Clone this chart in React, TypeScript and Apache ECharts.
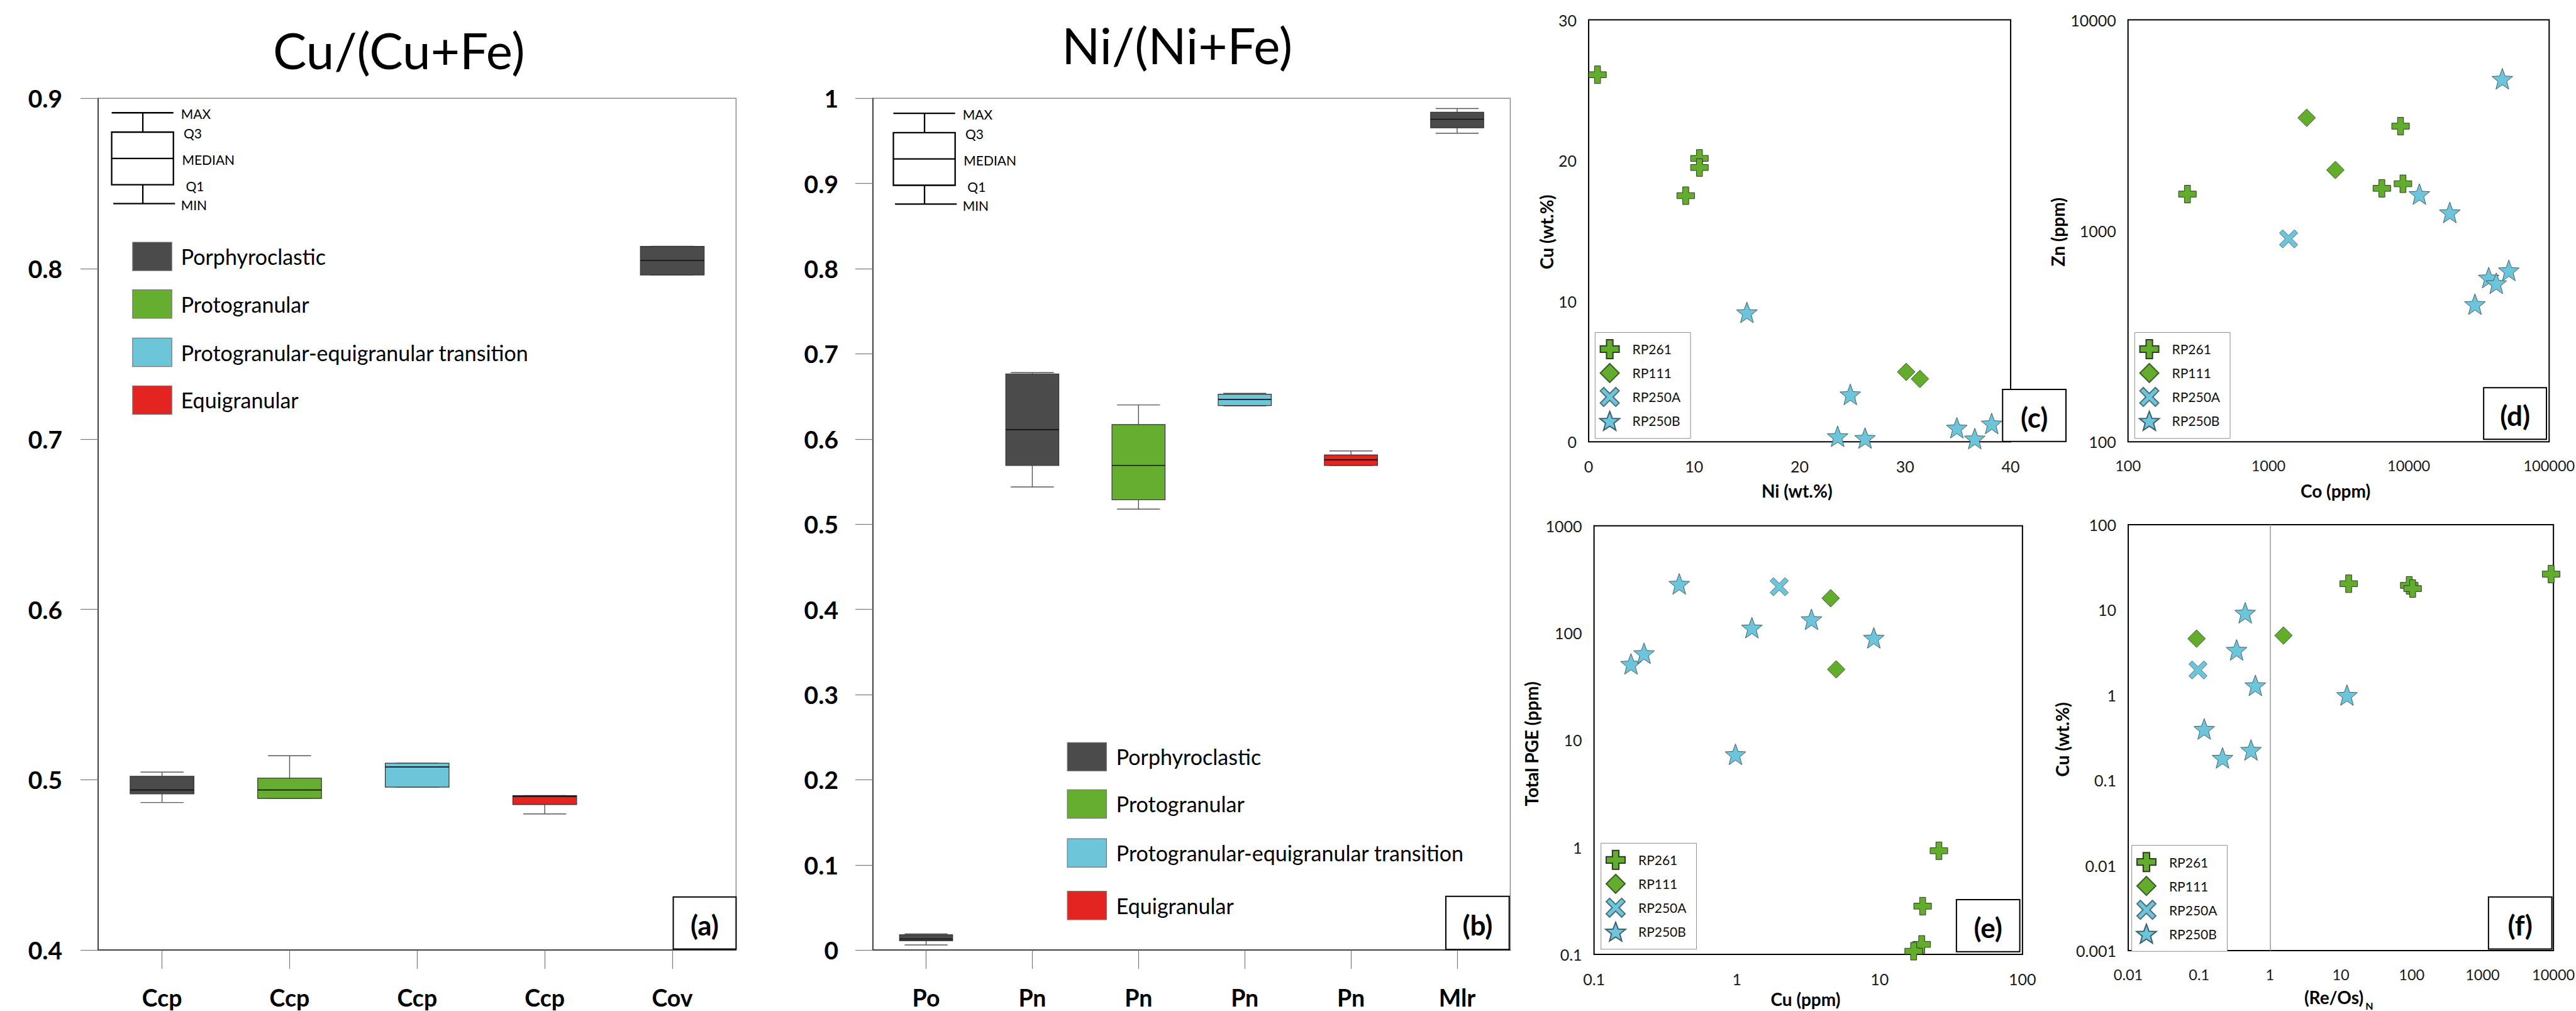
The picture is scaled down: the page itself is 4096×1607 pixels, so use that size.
import React, { useEffect, useRef } from 'react';
import * as echarts from 'echarts';

const W = 4096;
const H = 1607;
const S = W / 4798;
const p = (v: number) => v * S;
const FONT = 'Lato';

// ---------------- box plots: [min, Q1, median, Q3, max] ----------------
const groups = ['Porphyroclastic', 'Protogranular', 'Protogranular-equigranular transition', 'Equigranular'];
const groupColors = ['#4b4b4b', '#65ae2f', '#6dc5d9', '#e42421'];

const titleA = 'Cu/(Cu+Fe)';
const catsA = ['Ccp', 'Ccp', 'Ccp', 'Ccp', 'Cov'];
const boxA = [
  [0.4866, 0.4917, 0.494, 0.502, 0.5045],
  [0.489, 0.489, 0.494, 0.5009, 0.5141],
  [0.4957, 0.4957, 0.5075, 0.5097, 0.5097],
  [0.4799, 0.4854, 0.4902, 0.4907, 0.4907],
  [0.7963, 0.7963, 0.8048, 0.8131, 0.8131],
];
const groupOfA = [0, 1, 2, 3, 0];
const yRangeA = [0.4, 0.9, 0.1];

const titleB = 'Ni/(Ni+Fe)';
const catsB = ['Po', 'Pn', 'Pn', 'Pn', 'Pn', 'Mlr'];
const boxB = [
  [0.006, 0.011, 0.013, 0.018, 0.019],
  [0.5437, 0.569, 0.611, 0.6765, 0.678],
  [0.5177, 0.5286, 0.569, 0.617, 0.64],
  [0.639, 0.6393, 0.6465, 0.6526, 0.6536],
  [0.569, 0.569, 0.5756, 0.5813, 0.586],
  [0.959, 0.9653, 0.9754, 0.9836, 0.988],
];
const groupOfB = [0, 0, 1, 2, 3, 0];
const yRangeB = [0, 1, 0.1];

const insetLabels = ['MAX', 'Q3', 'MEDIAN', 'Q1', 'MIN'];

// ---------------- scatter plots ----------------
const sampleNames = ['RP261', 'RP111', 'RP250A', 'RP250B'];

// (c) Ni (wt.%) vs Cu (wt.%)
const cRP261 = [[0.84, 26.1], [10.5, 20.15], [10.5, 19.5], [9.2, 17.5]];
const cRP111 = [[30.1, 4.97], [31.4, 4.47]];
const cRP250A: number[][] = [];
const cRP250B = [[15.0, 9.2], [24.8, 3.37], [23.6, 0.39], [26.2, 0.27], [34.9, 1.0], [36.6, 0.23], [38.2, 1.3]];

// (d) Co (ppm) vs Zn (ppm)
const dRP261 = [[265, 1493], [8740, 3134], [6430, 1590], [9090, 1671]];
const dRP111 = [[1873, 3435], [3000, 1943]];
const dRP250A = [[1392, 916]];
const dRP250B = [[46400, 5255], [11900, 1493], [19600, 1222], [37100, 600], [51600, 649], [42000, 564], [29600, 449]];

// (e) Cu (ppm) vs Total PGE (ppm)
const eRP261 = [[26.0, 0.927], [20.0, 0.282], [19.7, 0.124], [17.3, 0.107]];
const eRP111 = [[4.54, 211], [4.96, 45.7]];
const eRP250A = [[1.98, 270]];
const eRP250B = [[0.395, 287], [1.275, 112], [3.33, 134], [9.1, 90], [0.1815, 51.4], [0.224, 64.6], [0.978, 7.37]];

// (f) (Re/Os)N vs Cu (wt.%)
const fRP261 = [[12.9, 20.3], [92.3, 19.4], [103, 17.8], [9270, 26.3]];
const fRP111 = [[0.092, 4.6], [1.55, 5.0]];
const fRP250A = [[0.0964, 1.97]];
const fRP250B = [[0.447, 9.25], [0.338, 3.39], [0.622, 1.3], [12.2, 1.0], [0.118, 0.4], [0.214, 0.183], [0.54, 0.227]];
const fRefLineX = 1;

// ---------------- symbols ----------------
const starPath = (() => {
  const pts: string[] = [];
  for (let i = 0; i < 10; i++) {
    const r = i % 2 === 0 ? 50 : 21;
    const a = -Math.PI / 2 + (i * Math.PI) / 5;
    pts.push((50 + r * Math.cos(a)).toFixed(2) + ',' + (50 + r * Math.sin(a)).toFixed(2));
  }
  return 'path://M' + pts.join('L') + 'Z';
})();
const crossPath = 'path://M33,0H67V33H100V67H67V100H33V67H0V33H33Z';
const xPath = 'path://M0,18L18,0L50,32L82,0L100,18L68,50L100,82L82,100L50,68L18,100L0,82L32,50Z';
const diamondPath = 'path://M50,0L100,50L50,100L0,50Z';

const GREEN = '#62ad2c';
const CYAN = '#6cc5da';
const symbolOf: Record<string, any> = {
  RP261: { symbol: crossPath, symbolSize: 28, color: GREEN, border: '#2f3a28' },
  RP111: { symbol: diamondPath, symbolSize: 28, color: GREEN, border: '#3c5a2a' },
  RP250A: { symbol: xPath, symbolSize: 29, color: CYAN, border: '#4f6f78' },
  RP250B: { symbol: starPath, symbolSize: 33, color: CYAN, border: '#3f5f69' },
};

function scatterSeries(name: string, data: number[][], gi: number, extra: any = {}) {
  const s = symbolOf[name];
  return {
    type: 'scatter',
    name,
    xAxisIndex: gi,
    yAxisIndex: gi,
    data,
    symbol: s.symbol,
    symbolSize: s.symbolSize,
    itemStyle: { color: s.color, borderColor: s.border, borderWidth: 1, opacity: 1 },
    emphasis: { disabled: true },
    z: 3,
    ...extra,
  };
}

function boxRender(capW: number) {
  return (params: any, api: any) => {
    const i = api.value(0);
    const mn = api.coord([i, api.value(1)]);
    const q1 = api.coord([i, api.value(2)]);
    const md = api.coord([i, api.value(3)]);
    const q3 = api.coord([i, api.value(4)]);
    const mx = api.coord([i, api.value(5)]);
    const g = api.value(6);
    const band = api.size([1, 0])[0];
    const bw = band * 0.5;
    const cx = mn[0];
    const ws = { stroke: '#555', lineWidth: 1.4 };
    return {
      type: 'group',
      children: [
        { type: 'line', shape: { x1: cx, y1: mx[1], x2: cx, y2: q3[1] }, style: ws },
        { type: 'line', shape: { x1: cx, y1: q1[1], x2: cx, y2: mn[1] }, style: ws },
        { type: 'line', shape: { x1: cx - capW / 2, y1: mx[1], x2: cx + capW / 2, y2: mx[1] }, style: ws },
        { type: 'line', shape: { x1: cx - capW / 2, y1: mn[1], x2: cx + capW / 2, y2: mn[1] }, style: ws },
        {
          type: 'rect',
          shape: { x: cx - bw / 2, y: q3[1], width: bw, height: Math.max(q1[1] - q3[1], 1) },
          style: { fill: groupColors[g], stroke: '#333', lineWidth: 1.2 },
        },
        { type: 'line', shape: { x1: cx - bw / 2, y1: md[1], x2: cx + bw / 2, y2: md[1] }, style: { stroke: '#111', lineWidth: 1.6 } },
      ],
    };
  };
}

function T(text: string, x: number, y: number, o: any = {}) {
  return {
    type: 'text',
    x: p(x),
    y: p(y),
    rotation: o.rot || 0,
    z: 30,
    style: {
      text,
      fontFamily: FONT,
      fontSize: o.fs || 26,
      fontWeight: o.fw || 'normal',
      fill: '#000',
      align: o.align || 'center',
      verticalAlign: 'middle',
    },
  };
}

function L(x1: number, y1: number, x2: number, y2: number, w = 2.3, c = '#000') {
  return { type: 'line', z: 30, shape: { x1: p(x1), y1: p(y1), x2: p(x2), y2: p(y2) }, style: { stroke: c, lineWidth: w } };
}

function inset(dx: number, dy: number) {
  const l = 208 + dx, r = 323 + dx, cx = 266 + dx;
  const ys = [210, 246, 295, 344, 379].map((v) => v + dy);
  const offs = [14, 19, 16, 23, 14];
  const els: any[] = [
    L(l, ys[0], r, ys[0]),
    L(cx, ys[0], cx, ys[1]),
    { type: 'rect', z: 30, shape: { x: p(l), y: p(ys[1]), width: p(r - l), height: p(ys[3] - ys[1]) }, style: { fill: '#fff', stroke: '#000', lineWidth: 2.3 } },
    L(l, ys[2], r, ys[2]),
    L(cx, ys[3], cx, ys[4]),
    L(l + 3, ys[4], r + 3, ys[4]),
  ];
  insetLabels.forEach((t, i) => els.push(T(t, r + offs[i], ys[i] + 2, { fs: 21, align: 'left' })));
  return els;
}

function groupLegend(x0: number, x1: number, centers: number[], tx: number) {
  const els: any[] = [];
  groups.forEach((g, i) => {
    els.push({
      type: 'rect',
      z: 30,
      shape: { x: p(x0), y: p(centers[i] - 26.5), width: p(x1 - x0), height: p(53) },
      style: { fill: groupColors[i], stroke: '#777', lineWidth: 1.2 },
    });
    els.push(T(g, tx, centers[i], { fs: 34, align: 'left' }));
  });
  return els;
}

function panelLabel(label: string, x0: number, y0: number, x1: number, y1: number) {
  return [
    { type: 'rect', z: 40, shape: { x: p(x0), y: p(y0), width: p(x1 - x0), height: p(y1 - y0) }, style: { fill: '#fff', stroke: '#000', lineWidth: 2 } },
    { ...T(label, (x0 + x1) / 2, (y0 + y1) / 2 + 3, { fs: 44, fw: 'bold' }), z: 41 },
  ];
}

const logFmt = (v: number) => String(parseFloat(Number(v).toPrecision(6)));

function scatterAxis(type: string, min: number, max: number, interval: number | null, isX: boolean, fs = 25) {
  const a: any = {
    type,
    min,
    max,
    axisLine: { show: false },
    axisTick: { show: false },
    splitLine: { show: false },
    axisLabel: {
      fontFamily: FONT,
      fontSize: fs,
      color: '#1a1a1a',
      margin: isX ? 26 : 19,
      interval: 0,
      formatter: type === 'log' ? logFmt : undefined,
    },
  };
  if (type === 'log') a.logBase = 10;
  if (interval != null) a.interval = interval;
  return a;
}

function boxXAxis(gi: number, data: string[]) {
  return {
    type: 'category',
    gridIndex: gi,
    data,
    axisLine: { show: true, lineStyle: { color: '#222', width: 1.5 } },
    axisTick: { show: true, alignWithLabel: true, length: p(35), lineStyle: { color: '#777', width: 1.2 } },
    axisLabel: { interval: 0, margin: 56, fontFamily: FONT, fontSize: 37.5, fontWeight: 'bold', color: '#000' },
    splitLine: { show: false },
  };
}

function boxYAxis(gi: number, r: number[], margin: number) {
  return {
    type: 'value',
    gridIndex: gi,
    min: r[0],
    max: r[1],
    interval: r[2],
    axisLine: { show: true, lineStyle: { color: '#222', width: 1.5 } },
    axisTick: { show: true, length: p(33), lineStyle: { color: '#777', width: 1.2 } },
    axisLabel: { margin, fontFamily: FONT, fontSize: 39, fontWeight: 'bold', color: '#000' },
    splitLine: { show: false },
  };
}

function gridRect(l: number, t: number, r: number, b: number, border: string, bw: number) {
  return {
    left: p(l),
    top: p(t),
    width: p(r - l),
    height: p(b - t),
    show: true,
    borderColor: border,
    borderWidth: bw,
    backgroundColor: 'transparent',
    containLabel: false,
    outerBoundsMode: 'none',
  };
}

function legendAt(l: number, t: number) {
  return {
    orient: 'vertical',
    left: p(l),
    top: p(t),
    itemWidth: 62,
    itemHeight: 30,
    itemGap: 6,
    padding: [10.5, 16, 12, 6.5],
    borderColor: '#8c8c8c',
    borderWidth: 1,
    backgroundColor: '#fff',
    selectedMode: false,
    textStyle: { fontFamily: FONT, fontSize: 21, color: '#111' },
    data: sampleNames,
  };
}

export default function App() {
  const ref = useRef<HTMLDivElement>(null);
  useEffect(() => {
    if (!ref.current) return;
    const chart = echarts.init(ref.current, undefined, { renderer: 'svg', width: W, height: H });

    const graphicEls: any[] = [
      T(titleA, 743, 92, { fs: 80 }),
      T(titleB, 2192.5, 83, { fs: 80 }),
      ...inset(0, 0),
      ...inset(1456, 1),
      ...groupLegend(247, 320, [477.5, 566, 656, 745], 337),
      ...groupLegend(1988, 2061, [1409, 1497, 1588, 1686], 2079),
      ...panelLabel('(a)', 1254, 1670, 1371, 1767),
      ...panelLabel('(b)', 2693, 1669, 2811, 1768),
      ...panelLabel('(c)', 3730, 725, 3848, 822),
      ...panelLabel('(d)', 4626, 722, 4743, 818),
      ...panelLabel('(e)', 3644, 1675, 3762, 1772),
      ...panelLabel('(f)', 4635, 1670, 4753, 1767),
      T('Cu (wt.%)', 2880, 432, { fs: 28, fw: 'bold', rot: Math.PI / 2 }),
      T('Ni (wt.%)', 3347, 914, { fs: 28, fw: 'bold' }),
      T('Zn (ppm)', 3833, 432, { fs: 28, fw: 'bold', rot: Math.PI / 2 }),
      T('Co (ppm)', 4350, 914, { fs: 28, fw: 'bold' }),
      T('Total PGE (ppm)', 2852, 1385, { fs: 28, fw: 'bold', rot: Math.PI / 2 }),
      T('Cu (ppm)', 3363, 1860, { fs: 28, fw: 'bold' }),
      T('Cu (wt.%)', 3841, 1377, { fs: 28, fw: 'bold', rot: Math.PI / 2 }),
      T('(Re/Os)', 4347, 1857, { fs: 28, fw: 'bold' }),
      T('N', 4406, 1872, { fs: 16, fw: 'bold', align: 'left' }),
    ];

    const option: any = {
      animation: false,
      backgroundColor: '#fff',
      textStyle: { fontFamily: FONT },
      grid: [
        gridRect(183, 183, 1371, 1769, '#8a8a8a', 1.5),
        gridRect(1626, 183, 2813, 1769, '#8a8a8a', 1.5),
        gridRect(2959, 37, 3745, 822.6, '#000', 2),
        gridRect(3963.6, 37, 4748, 822.5, '#000', 2),
        gridRect(2969, 979, 3767, 1777, '#000', 2),
        gridRect(3964, 977, 4756, 1770, '#000', 2),
      ],
      xAxis: [
        boxXAxis(0, catsA),
        boxXAxis(1, catsB),
        { ...scatterAxis('value', 0, 40, 10, true), gridIndex: 2 },
        { ...scatterAxis('log', 100, 100000, null, true, 23.5), gridIndex: 3 },
        { ...scatterAxis('log', 0.1, 100, null, true), gridIndex: 4 },
        { ...scatterAxis('log', 0.01, 10000, null, true, 23.5), gridIndex: 5 },
      ],
      yAxis: [
        boxYAxis(0, yRangeA, 57),
        boxYAxis(1, yRangeB, 55),
        { ...scatterAxis('value', 0, 30, 10, false), gridIndex: 2 },
        { ...scatterAxis('log', 100, 10000, null, false), gridIndex: 3 },
        { ...scatterAxis('log', 0.1, 1000, null, false), gridIndex: 4 },
        { ...scatterAxis('log', 0.001, 100, null, false), gridIndex: 5 },
      ],
      legend: [legendAt(2971, 619), legendAt(3976, 619), legendAt(2982, 1570), legendAt(3970.6, 1574)],
      series: [
        {
          type: 'custom',
          name: 'boxA',
          xAxisIndex: 0,
          yAxisIndex: 0,
          clip: false,
          encode: { x: 0, y: [1, 2, 3, 4, 5] },
          data: boxA.map((b, i) => [i, ...b, groupOfA[i]]),
          renderItem: boxRender(p(80)),
        },
        {
          type: 'custom',
          name: 'boxB',
          xAxisIndex: 1,
          yAxisIndex: 1,
          clip: false,
          encode: { x: 0, y: [1, 2, 3, 4, 5] },
          data: boxB.map((b, i) => [i, ...b, groupOfB[i]]),
          renderItem: boxRender(p(80)),
        },
        scatterSeries('RP261', cRP261, 2),
        scatterSeries('RP111', cRP111, 2),
        scatterSeries('RP250A', cRP250A, 2),
        scatterSeries('RP250B', cRP250B, 2),
        scatterSeries('RP261', dRP261, 3),
        scatterSeries('RP111', dRP111, 3),
        scatterSeries('RP250A', dRP250A, 3),
        scatterSeries('RP250B', dRP250B, 3),
        scatterSeries('RP261', eRP261, 4),
        scatterSeries('RP111', eRP111, 4),
        scatterSeries('RP250A', eRP250A, 4),
        scatterSeries('RP250B', eRP250B, 4),
        scatterSeries('RP261', fRP261, 5, {
          markLine: {
            silent: true,
            symbol: 'none',
            label: { show: false },
            lineStyle: { color: '#9a9a9a', width: 1.5, type: 'solid' },
            data: [{ xAxis: fRefLineX }],
            z: 1,
          },
        }),
        scatterSeries('RP111', fRP111, 5),
        scatterSeries('RP250A', fRP250A, 5),
        scatterSeries('RP250B', fRP250B, 5),
      ],
      graphic: { elements: graphicEls },
    };
    chart.setOption(option);
    return () => chart.dispose();
  }, []);
  return <div ref={ref} style={{ position: 'fixed', left: 0, top: 0, width: W, height: H }} />;
}
